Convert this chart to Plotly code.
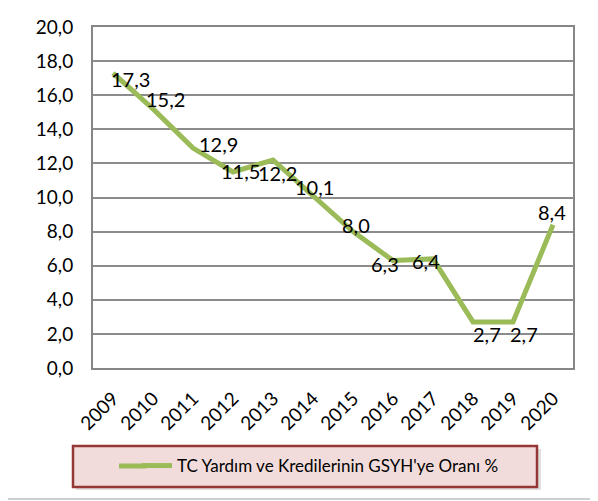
import plotly.graph_objects as go

years = ["2009", "2010", "2011", "2012", "2013", "2014", "2015", "2016", "2017", "2018", "2019", "2020"]
values = [17.3, 15.2, 12.9, 11.5, 12.2, 10.1, 8.0, 6.3, 6.4, 2.7, 2.7, 8.4]
series_name = "TC Yardım ve Kredilerinin GSYH'ye Oranı %"
y_ticks = [0, 2, 4, 6, 8, 10, 12, 14, 16, 18, 20]

# label offsets (px) for data labels, style only
label_dx = [17, 12, 25, 7, 4, 1, 3, -8, -7, 14, 11, -1]
label_dy = [-7, 9, 3, 0, -14, 8, 6, -4, -3, -13, -13, 12]

FONT = "Lato"
OFF = 8  # page body margin
W, H = 598 - OFF, 501 - OFF
# plot area in window pixels: x 93..573, y 27..368
L, R, T, B = 93 - OFF, W - (573 - OFF), 27 - OFF, H - (368 - OFF)
pw, ph = W - L - R, H - T - B

def px_x(x):
    return (x - OFF - L) / pw

def px_y(y):
    return (H - B - (y - OFF)) / ph

fig = go.Figure()
fig.add_trace(go.Scatter(
    x=years, y=values, mode="lines", name=series_name,
    line=dict(color="#9BBB59", width=5),
    showlegend=True,
))

for i, (v, dx, dy) in enumerate(zip(values, label_dx, label_dy)):
    fig.add_annotation(
        x=i, y=v, text=f"{v:.1f}".replace(".", ","), showarrow=False,
        xshift=dx, yshift=dy + 1, font=dict(family=FONT, size=20, color="#000000"),
    )

# chart outer border (left and bottom visible)
fig.add_shape(type="line", xref="paper", yref="paper",
              x0=px_x(7), x1=px_x(7), y0=px_y(499), y1=px_y(-20),
              line=dict(color="#BFBFBF", width=1.5))
fig.add_shape(type="line", xref="paper", yref="paper",
              x0=px_x(7), x1=px_x(620), y0=px_y(499), y1=px_y(499),
              line=dict(color="#BFBFBF", width=1.5))

# legend box with shadow
fig.add_shape(type="rect", xref="paper", yref="paper",
              x0=px_x(76), x1=px_x(541), y0=px_y(490), y1=px_y(449),
              line=dict(width=0), fillcolor="rgba(0,0,0,0.12)", layer="below")
fig.add_shape(type="rect", xref="paper", yref="paper",
              x0=px_x(73), x1=px_x(537), y0=px_y(487), y1=px_y(446),
              line=dict(color="#953735", width=2.5), fillcolor="#F2DCDB", layer="below")
# longer legend key line (Excel style)
fig.add_shape(type="line", xref="paper", yref="paper",
              x0=px_x(119), x1=px_x(146), y0=px_y(466), y1=px_y(466),
              line=dict(color="#9BBB59", width=5))

fig.update_layout(
    width=W, height=H,
    margin=dict(l=L, r=R, t=T, b=B, autoexpand=False),
    paper_bgcolor="white", plot_bgcolor="white",
    separators=",.",
    font=dict(family=FONT, size=19, color="#000000"),
    legend=dict(
        xref="container", yref="container",
        x=(137 - OFF) / W, y=1 - (466 - OFF) / H, xanchor="left", yanchor="middle",
        bgcolor="rgba(0,0,0,0)", borderwidth=0,
        font=dict(family=FONT, size=17, color="#000000"),
        itemwidth=30,
    ),
    xaxis=dict(
        type="category", range=[-0.5, 11.5], automargin=False,
        tickangle=-45, showgrid=False,
        showline=True, linecolor="#868686", linewidth=2, mirror=True,
        ticks="", ticklabelstandoff=10,
        tickfont=dict(family=FONT, size=19),
    ),
    yaxis=dict(
        range=[0, 20], tickvals=y_ticks, tickformat=".1f", automargin=False,
        showgrid=True, gridcolor="#8C8C8C", gridwidth=2,
        showline=True, linecolor="#868686", linewidth=2, mirror=True,
        ticks="", ticklabelstandoff=14, zeroline=False,
        tickfont=dict(family=FONT, size=19),
    ),
)

fig.write_html("out.html")
